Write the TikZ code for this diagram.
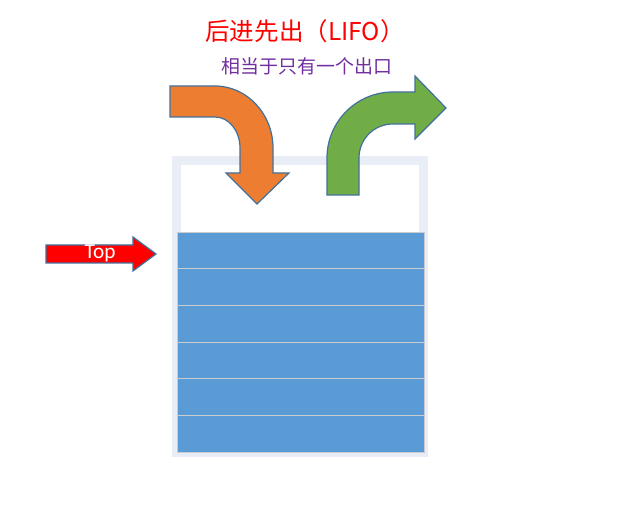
\documentclass[tikz,border=0pt]{standalone}
\usepackage{fontspec}
\setmainfont{Carlito}
\newfontfamily\cjk{Noto Sans CJK SC}

\definecolor{outline}{HTML}{41719C}
\definecolor{frame}{HTML}{E8EDF6}
\definecolor{cell}{HTML}{5B9BD5}
\definecolor{rule}{HTML}{C9CDD2}
\definecolor{pushc}{HTML}{ED7D31}
\definecolor{popc}{HTML}{70AD47}
\definecolor{note}{HTML}{7030A0}

\begin{document}
\begin{tikzpicture}[x=0.75pt,y=-0.75pt,
    bent/.style={draw=outline, line width=0.9pt, line join=miter},
    row/.style={draw=rule, line width=0.7pt}]
      \useasboundingbox[fill=white] (0,0) rectangle (621,505);
      \node[text=red, font=\cjk\fontsize{18.4}{21}\selectfont] (title) at (305,31) {后进先出（LIFO）};
      \node[text=note, font=\cjk\fontsize{14.2}{17}\selectfont] (subtitle) at (307,66) {相当于只有一个出口};
      \draw[draw=frame, line width=6.8pt] (176.5,160.5) rectangle (423.5,452.5);
      \fill[cell] (177,232) rectangle (424,452);
      \foreach \k in {1,...,5}
        \draw[row] (177,232+36.67*\k) -- (424,232+36.67*\k);
      \draw[row] (177,232) rectangle (424,452);
      \draw[bent, fill=pushc] (170,86) -- (215,86) .. controls (247,86) and (273,114) .. (273,148)
        -- (273,173) -- (289,173) -- (257,204) -- (226,173) -- (240,173) -- (240,148)
        .. controls (240,131) and (229,117) .. (215,117) -- (170,117) -- cycle;
      \draw[bent, fill=popc] (327,195) -- (327,158) .. controls (327,121.5) and (356.5,92) .. (393,92)
        -- (415,92) -- (415,76) -- (446,108) -- (415,139) -- (415,124) -- (393,124)
        .. controls (374,124) and (359,139) .. (359,158) -- (359,195) -- cycle;
      \draw[bent, fill=red] (46,245) -- (133,245) -- (133,237) -- (156,254) -- (133,271) -- (133,263) -- (46,263) -- cycle;
      \node[text=white, font=\fontsize{16}{18}\selectfont] (toplabel) at (100,253) {Top};
    \end{tikzpicture}
\end{document}
